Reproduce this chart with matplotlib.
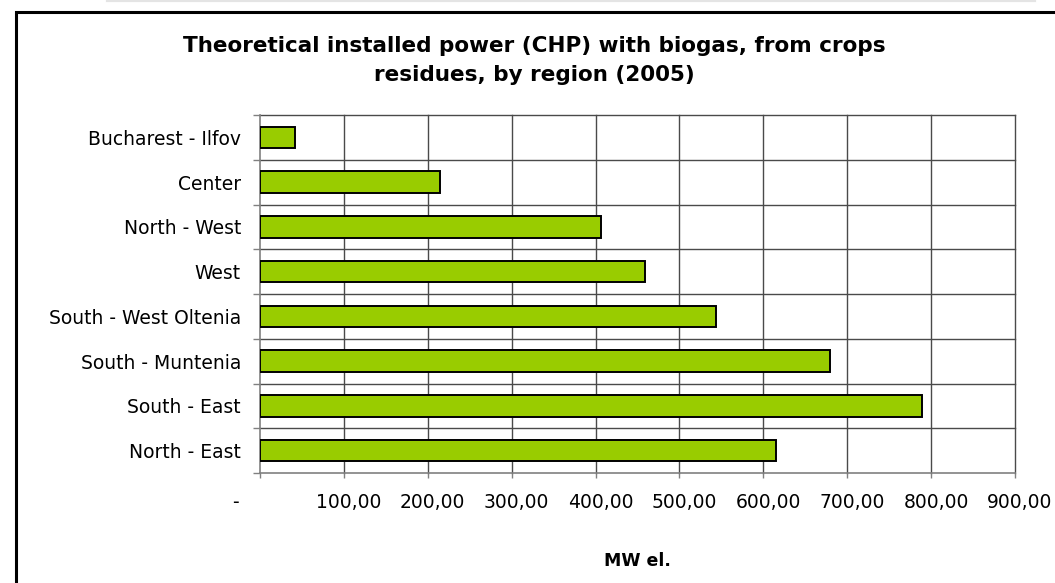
import matplotlib
matplotlib.use("Agg")
import matplotlib.pyplot as plt
from matplotlib.patches import Rectangle
from matplotlib.lines import Line2D
from matplotlib.transforms import ScaledTranslation

# ---- data (bottom to top, as in the chart) ----
regions = ["North - East", "South - East", "South - Muntenia", "South - West Oltenia",
           "West", "North - West", "Center", "Bucharest - Ilfov"]
power_mw = [615, 789, 679, 544, 459, 407, 215, 42]
x_ticks = [0, 100, 200, 300, 400, 500, 600, 700, 800, 900]
x_tick_labels = ["-", "100,00", "200,00", "300,00", "400,00", "500,00",
                 "600,00", "700,00", "800,00", "900,00"]
title = "Theoretical installed power (CHP) with biogas, from crops\nresidues, by region (2005)"
x_label = "MW el."

W, H = 1055, 583
fig = plt.figure(figsize=(W / 100, H / 100), dpi=100)
fig.patch.set_facecolor("white")

plt.rcParams["font.family"] = ["DejaVu Sans"]

left, right, top, bottom = 260, 1015, 115, 473
ax = fig.add_axes([left / W, 1 - bottom / H, (right - left) / W, (bottom - top) / H])

n = len(regions)
ypos = list(range(n))
ax.barh(ypos, power_mw, height=0.476, color="#99CC00", edgecolor="black",
        linewidth=1.4, zorder=3)

ax.set_xlim(0, 900)
ax.set_ylim(-0.5, n - 0.5)

grid_col = "#4a4a4a"
# vertical gridlines
for xv in x_ticks[1:]:
    ax.axvline(xv, color=grid_col, linewidth=1.0, zorder=1, clip_on=False)
# horizontal gridlines at category boundaries
for k in range(n):
    ax.axhline(k + 0.5, color=grid_col, linewidth=1.0, zorder=1, clip_on=False)

for s in ["top", "right"]:
    ax.spines[s].set_visible(False)
ax.spines["left"].set_color("#808080")
ax.spines["bottom"].set_color("#808080")
ax.spines["left"].set_linewidth(1.2)
ax.spines["bottom"].set_linewidth(1.2)

ax.set_xticks(x_ticks)
ax.set_xticklabels(x_tick_labels, fontsize=13.5, color="black")
ax.tick_params(axis="x", direction="out", length=3.6, width=1, color="#808080", pad=10.8)
for lbl, t in zip(ax.get_xticklabels(), x_ticks):
    dx = -25 if t == 0 else 5
    lbl.set_transform(lbl.get_transform() + ScaledTranslation(dx / 100, 0, fig.dpi_scale_trans))

ax.set_yticks([k - 0.5 for k in range(n)] + [n - 0.5], minor=False)
ax.set_yticklabels([])
ax.set_yticks(ypos, minor=True)
ax.set_yticklabels(regions, minor=True, fontsize=13.5)
ax.tick_params(axis="y", which="major", direction="out", length=5, width=1, color="#808080")
ax.tick_params(axis="y", which="minor", length=0, pad=13.7)

ax.set_xlabel(x_label, fontsize=12.5, fontweight="bold", labelpad=29)

fig.text(534 / W, 1 - 60.5 / H, title, ha="center", va="center", fontsize=15.5,
         fontweight="bold", linespacing=1.6)

# chart frame (cut at right/bottom edges)
fig.add_artist(Rectangle((16 / W, -0.05), 1.1, 1 - 12 / H + 0.05, transform=fig.transFigure,
                         fill=False, edgecolor="black", linewidth=2.2, clip_on=False))
fig.add_artist(Line2D([107 / W, 1035 / W], [1 - 0.8 / H, 1 - 0.8 / H], transform=fig.transFigure,
                      color="#e4e4e4", linewidth=1.6))

fig.savefig("out.png", dpi=100)
